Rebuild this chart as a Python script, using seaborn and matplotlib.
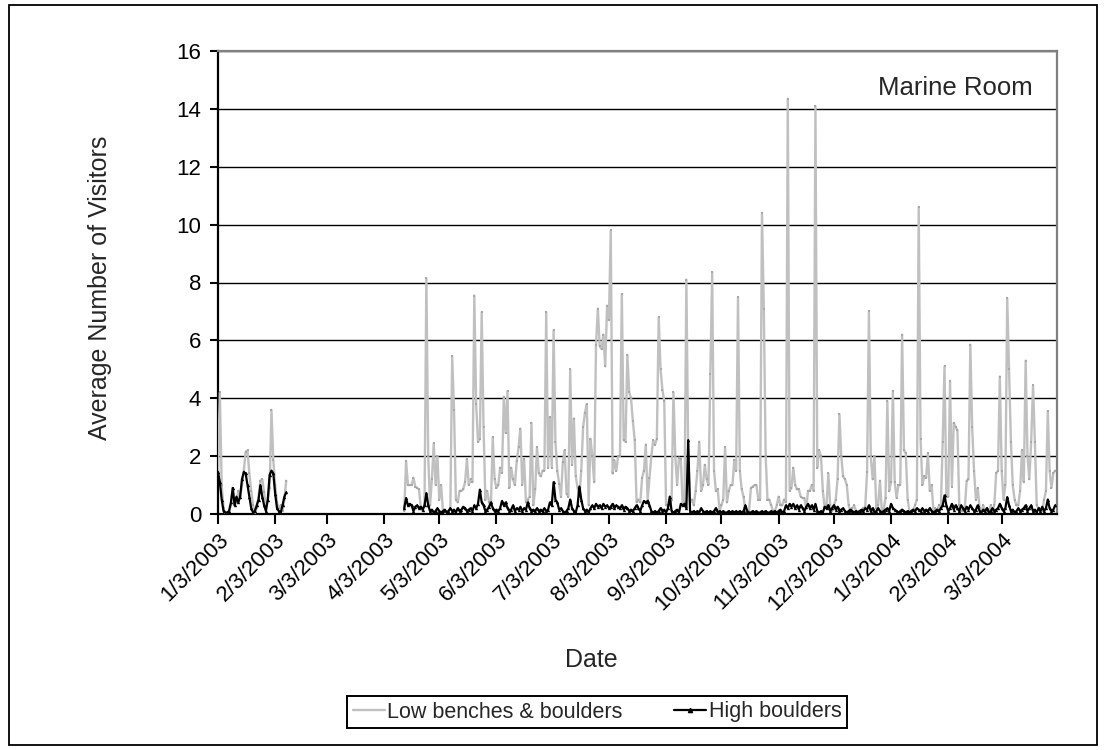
import numpy as np
import pandas as pd
import matplotlib
matplotlib.use("Agg")
import matplotlib.pyplot as plt
import matplotlib.dates as mdates
from matplotlib.ticker import FuncFormatter
from matplotlib.patches import Rectangle
from matplotlib.lines import Line2D
import seaborn as sns

# ---------------- data ----------------
segment_1_start = "2003-01-03"
segment_2_start = "2003-04-14"

low_seg1 = [1.5, 4.2, 1.0, 0.2, 0.05, 0.05, 0.1, 0.3, 0.9, 0.3,
            0.4, 0.8, 0.55, 1.0, 1.5, 2.15, 2.2, 1.4, 0.8, 0.3,
            0.05, 0.2, 0.6, 1.15, 1.2, 0.75, 0.3, 0.5, 0.9, 3.6,
            1.85, 1.0, 0.4, 0.2, 0.3, 0.1, 0.5, 1.15]

high_seg1 = [1.45, 1.1, 0.5, 0.1, 0.05, 0.05, 0.1, 0.4, 0.9, 0.3,
             0.6, 0.4, 0.6, 1.2, 1.45, 1.4, 1.0, 0.6, 0.2, 0.05,
             0.1, 0.3, 0.5, 1.0, 0.6, 0.3, 0.1, 0.5, 1.35, 1.5,
             1.4, 0.7, 0.2, 0.1, 0.05, 0.3, 0.6, 0.75]

low_seg2 = [0.1, 1.83, 1.0, 1.0, 1.0, 1.25, 0.95, 0.9, 0.85, 0.2,
            0.1, 0.3, 8.15, 2.0, 0.3, 1.2, 2.45, 1.0, 2.0, 0.5,
            1.0, 0.1, 0.05, 0.1, 0.1, 0.2, 5.45, 3.6, 0.5, 0.4,
            0.8, 0.8, 0.85, 1.1, 1.9, 1.0, 1.2, 1.1, 7.55, 3.8,
            2.5, 2.6, 6.97, 3.0, 0.5, 0.8, 0.4, 0.3, 2.65, 1.2,
            0.9, 1.0, 1.6, 1.42, 4.05, 2.8, 4.25, 0.9, 1.6, 1.2,
            1.0, 1.83, 2.3, 2.95, 1.0, 1.9, 0.4, 0.5, 0.6, 3.15,
            0.3, 0.85, 2.3, 1.4, 1.3, 1.5, 1.5, 6.97, 1.6, 3.35,
            1.6, 6.35, 2.5, 1.5, 1.05, 0.6, 1.8, 2.2, 0.7, 0.6,
            5.0, 1.7, 3.3, 1.3, 0.9, 0.6, 1.5, 3.0, 3.5, 3.8,
            0.3, 2.6, 2.0, 1.1, 5.85, 7.1, 5.8, 5.7, 6.2, 5.1,
            7.2, 6.7, 9.8, 1.4, 1.85, 1.5, 2.0, 2.0, 7.6, 2.55,
            2.5, 5.5, 4.2, 4.0, 3.2, 2.55, 0.4, 0.5, 0.4, 1.25,
            1.5, 2.4, 0.5, 1.25, 2.0, 2.55, 2.4, 2.6, 6.8, 5.0,
            4.3, 3.9, 0.3, 0.3, 0.3, 0.5, 4.2, 2.0, 1.0, 1.95,
            1.9, 0.3, 0.4, 8.1, 2.0, 0.4, 0.5, 0.3, 0.8, 1.5,
            2.5, 0.8, 1.0, 1.7, 1.2, 1.0, 4.85, 8.35, 1.5, 0.8,
            0.85, 0.1, 0.3, 0.5, 2.3, 0.4, 0.8, 1.0, 1.0, 1.85,
            1.5, 7.5, 1.5, 0.85, 0.6, 0.1, 0.1, 0.1, 0.9, 0.95,
            1.0, 1.0, 0.5, 0.5, 10.4, 7.1, 2.0, 0.5, 0.5, 0.3,
            0.1, 0.1, 0.3, 0.6, 0.3, 0.3, 0.5, 0.4, 14.35, 0.8,
            0.9, 1.6, 1.0, 0.85, 0.85, 0.6, 0.55, 0.55, 0.2, 0.8,
            0.8, 1.0, 0.8, 14.1, 1.6, 2.2, 2.0, 0.8, 0.2, 0.3,
            1.4, 0.3, 0.1, 0.3, 0.5, 1.2, 3.45, 2.0, 1.3, 1.2,
            1.0, 0.3, 0.1, 0.2, 0.3, 0.1, 0.1, 0.1, 0.1, 0.2,
            0.25, 1.45, 7.0, 2.0, 1.2, 2.0, 0.2, 0.3, 1.15, 0.1,
            0.15, 0.55, 3.9, 0.8, 1.1, 4.25, 1.1, 0.55, 1.0, 1.0,
            6.2, 2.2, 2.1, 0.5, 0.1, 0.1, 0.15, 0.3, 0.5, 10.6,
            2.6, 1.0, 1.3, 1.25, 2.1, 0.8, 1.0, 0.1, 0.2, 0.1,
            0.3, 0.2, 2.5, 5.1, 0.6, 0.6, 4.6, 0.95, 3.15, 3.0,
            2.9, 0.3, 0.1, 0.1, 0.2, 1.15, 1.2, 5.85, 3.0, 1.5,
            0.5, 0.9, 0.2, 0.1, 0.3, 0.1, 0.2, 0.1, 0.3, 0.1,
            0.3, 1.4, 1.5, 4.75, 1.5, 0.5, 1.0, 7.45, 5.0, 2.5,
            1.0, 0.5, 0.3, 0.3, 0.8, 2.2, 1.1, 5.3, 2.0, 1.2,
            2.5, 4.45, 2.5, 0.3, 0.2, 0.1, 0.1, 0.5, 0.8, 3.55,
            1.5, 0.9, 1.4, 1.5]

high_seg2 = [0.2, 0.55, 0.3, 0.35, 0.3, 0.1, 0.25, 0.3, 0.2, 0.25,
             0.15, 0.3, 0.72, 0.3, 0.1, 0.15, 0.05, 0.1, 0.2, 0.1,
             0.05, 0.1, 0.15, 0.05, 0.1, 0.2, 0.1, 0.15, 0.05, 0.2,
             0.1, 0.15, 0.25, 0.2, 0.1, 0.15, 0.2, 0.1, 0.3, 0.2,
             0.35, 0.84, 0.4, 0.3, 0.1, 0.15, 0.25, 0.4, 0.2, 0.1,
             0.15, 0.1, 0.2, 0.45, 0.3, 0.4, 0.2, 0.1, 0.15, 0.3,
             0.1, 0.2, 0.15, 0.25, 0.1, 0.2, 0.15, 0.4, 0.2, 0.1,
             0.15, 0.1, 0.2, 0.1, 0.15, 0.1, 0.2, 0.1, 0.15, 0.4,
             0.3, 1.1, 0.5, 0.4, 0.15, 0.2, 0.1, 0.05, 0.1, 0.2,
             0.5, 0.2, 0.1, 0.05, 0.3, 0.95, 0.5, 0.2, 0.1, 0.15,
             0.05, 0.2, 0.3, 0.2, 0.35, 0.25, 0.3, 0.2, 0.35, 0.25,
             0.3, 0.2, 0.25, 0.35, 0.2, 0.3, 0.25, 0.2, 0.3, 0.15,
             0.25, 0.2, 0.1, 0.15, 0.1, 0.2, 0.3, 0.2, 0.1, 0.3,
             0.45, 0.4, 0.45, 0.3, 0.1, 0.05, 0.1, 0.05, 0.1, 0.2,
             0.1, 0.15, 0.05, 0.2, 0.6, 0.1, 0.05, 0.1, 0.15, 0.05,
             0.35, 0.3, 0.35, 0.2, 2.55, 0.1, 0.05, 0.1, 0.05, 0.1,
             0.05, 0.2, 0.1, 0.05, 0.1, 0.05, 0.1, 0.05, 0.1, 0.2,
             0.05, 0.1, 0.05, 0.1, 0.05, 0.05, 0.1, 0.05, 0.1, 0.05,
             0.1, 0.05, 0.1, 0.05, 0.1, 0.3, 0.1, 0.05, 0.05, 0.1,
             0.05, 0.1, 0.05, 0.05, 0.1, 0.05, 0.1, 0.05, 0.05, 0.1,
             0.05, 0.1, 0.05, 0.1, 0.15, 0.05, 0.1, 0.3, 0.2, 0.35,
             0.25, 0.35, 0.2, 0.3, 0.15, 0.3, 0.2, 0.1, 0.25, 0.35,
             0.2, 0.3, 0.15, 0.35, 0.1, 0.05, 0.1, 0.05, 0.25, 0.2,
             0.3, 0.1, 0.2, 0.3, 0.15, 0.25, 0.1, 0.15, 0.2, 0.1,
             0.05, 0.1, 0.15, 0.1, 0.05, 0.1, 0.05, 0.1, 0.15, 0.1,
             0.2, 0.15, 0.3, 0.1, 0.2, 0.05, 0.1, 0.2, 0.1, 0.05,
             0.1, 0.15, 0.2, 0.1, 0.35, 0.2, 0.15, 0.1, 0.05, 0.1,
             0.15, 0.1, 0.05, 0.1, 0.05, 0.1, 0.15, 0.1, 0.2, 0.15,
             0.1, 0.2, 0.1, 0.15, 0.1, 0.2, 0.1, 0.05, 0.1, 0.15,
             0.1, 0.2, 0.3, 0.64, 0.3, 0.1, 0.2, 0.35, 0.15, 0.3,
             0.2, 0.1, 0.3, 0.2, 0.1, 0.25, 0.15, 0.3, 0.2, 0.1,
             0.15, 0.3, 0.1, 0.05, 0.15, 0.1, 0.2, 0.05, 0.1, 0.2,
             0.1, 0.15, 0.2, 0.35, 0.2, 0.1, 0.2, 0.58, 0.3, 0.1,
             0.15, 0.05, 0.1, 0.2, 0.1, 0.15, 0.2, 0.3, 0.1, 0.2,
             0.3, 0.1, 0.15, 0.05, 0.2, 0.1, 0.25, 0.1, 0.2, 0.5,
             0.2, 0.1, 0.15, 0.3]

series_names = ["Low benches & boulders", "High boulders"]
axis_start = "2003-01-03"
axis_end = "2004-04-02"
tick_start = "2003-01-03"
tick_end = "2004-03-03"
y_ticks = [0, 2, 4, 6, 8, 10, 12, 14, 16]
title_text = "Marine Room"
x_label = "Date"
y_label = "Average Number of Visitors"

# ---------------- build frame ----------------
frames = []
for seg_id, (start, lows, highs) in enumerate(
        [(segment_1_start, low_seg1, high_seg1),
         (segment_2_start, low_seg2, high_seg2)]):
    d_low = pd.date_range(start, periods=len(lows), freq="D")
    d_high = pd.date_range(start, periods=len(highs), freq="D")
    frames.append(pd.DataFrame({"date": d_low, "visitors": lows,
                                "series": series_names[0], "segment": seg_id}))
    frames.append(pd.DataFrame({"date": d_high, "visitors": highs,
                                "series": series_names[1], "segment": seg_id}))
df = pd.concat(frames, ignore_index=True)

# ---------------- style ----------------
sns.set_style("white")
plt.rcParams["font.family"] = ["Liberation Sans", "DejaVu Sans"]

fig = plt.figure(figsize=(11.04, 7.5), dpi=100)
ax = fig.add_axes([218 / 1104, 1 - 514 / 750, (1057 - 218) / 1104, (514 - 51) / 750])

gray = "#c0c0c0"
sns.lineplot(data=df[df.series == series_names[0]], x="date", y="visitors",
             units="segment", estimator=None, color=gray, linewidth=1.7,
             marker="s", markersize=1.6, markerfacecolor="#a8a8a8",
             markeredgecolor="#a8a8a8", markeredgewidth=0,
             legend=False, ax=ax, zorder=3)
sns.lineplot(data=df[df.series == series_names[1]], x="date", y="visitors",
             units="segment", estimator=None, color="black", linewidth=1.6,
             marker="^", markersize=2.4, markerfacecolor="black",
             markeredgecolor="black", markeredgewidth=0,
             legend=False, ax=ax, zorder=4)

ax.set_ylim(0, 16)
ax.set_yticks(y_ticks)
ax.set_xlim(pd.Timestamp(axis_start), pd.Timestamp(axis_end))
ticks = pd.date_range(tick_start, tick_end, freq=pd.DateOffset(months=1))
ax.set_xticks(ticks)
ax.xaxis.set_major_formatter(FuncFormatter(
    lambda v, p: (lambda d: f"{d.month}/{d.day}/{d.year}")(mdates.num2date(v))))

ax.yaxis.grid(True, color="black", linewidth=1.0)
ax.xaxis.grid(False)
ax.set_axisbelow(True)
for s in ["left", "bottom"]:
    ax.spines[s].set_color("black")
    ax.spines[s].set_linewidth(1.6)
for s in ["top", "right"]:
    ax.spines[s].set_color("#808080")
    ax.spines[s].set_linewidth(1.6)

ax.tick_params(axis="y", direction="out", length=6, width=1.5, labelsize=16,
               pad=6, left=True, colors="black")
ax.tick_params(axis="x", direction="out", length=7, width=1.5, labelsize=16,
               pad=4, bottom=True, colors="black")
for lab in ax.get_xticklabels():
    lab.set_rotation(45)
    lab.set_ha("right")
    lab.set_va("top")
    lab.set_rotation_mode("anchor")

ax.set_xlabel(x_label, fontsize=18)
ax.set_ylabel(y_label, fontsize=18)
ax.xaxis.set_label_coords((591 - 218) / 839, (514 - 660) / 463)
ax.yaxis.set_label_coords((100 - 218) / 839, (514 - 288) / 463)
ax.xaxis.label.set_va("center")
ax.yaxis.label.set_va("center")
ax.text(0.971, 0.92, title_text, transform=ax.transAxes, ha="right",
        va="center", fontsize=18.5)

handles = [Line2D([], [], color=gray, linewidth=1.7),
           Line2D([], [], color="black", linewidth=1.6, marker="^",
                  markersize=3)]
leg = fig.legend(handles, series_names, loc="center",
                 bbox_to_anchor=(597 / 1104, 1 - 712 / 750), ncol=2,
                 frameon=True, fancybox=False, edgecolor="black",
                 framealpha=1, fontsize=15.5, handlelength=1.5,
                 handletextpad=0.1, columnspacing=2.4, borderpad=0.25,
                 borderaxespad=0)
leg.get_frame().set_linewidth(1.4)

fig.add_artist(Rectangle((9 / 1104, 1 - 745 / 750), 1088 / 1104, 740 / 750,
                         transform=fig.transFigure, fill=False,
                         edgecolor="black", linewidth=1.3))

fig.savefig("out.png", dpi=100)
